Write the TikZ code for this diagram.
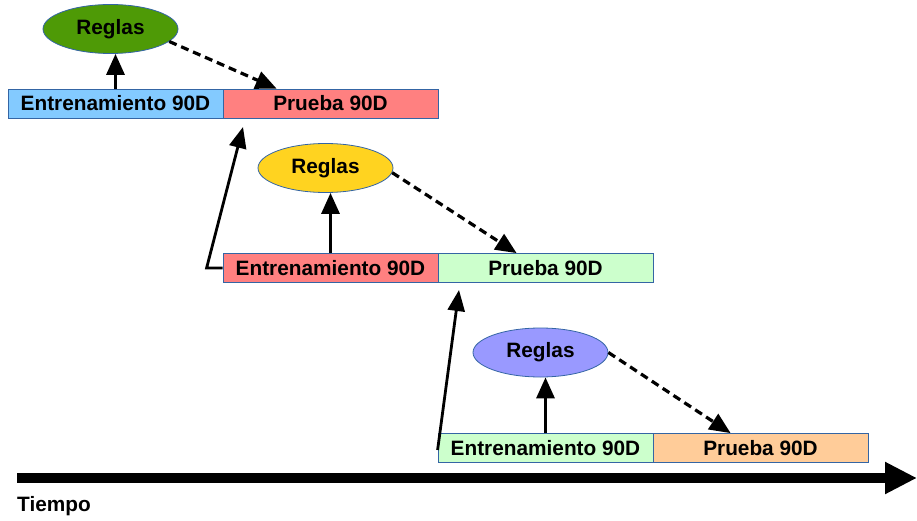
\documentclass[tikz,border=0pt]{standalone}
\usepackage{fontspec}
\setmainfont{Liberation Sans}
\usetikzlibrary{arrows.meta,shapes.geometric,calc}
\definecolor{cblue}{RGB}{131,202,255}
\definecolor{cred}{RGB}{255,128,128}
\definecolor{cgreen}{RGB}{204,255,204}
\definecolor{corange}{RGB}{255,204,153}
\definecolor{egreen}{RGB}{78,154,6}
\definecolor{eyellow}{RGB}{255,211,32}
\definecolor{eblue}{RGB}{153,153,255}
\definecolor{edge}{RGB}{52,101,164}
\tikzset{
  x=1pt, y=-1pt,
  lbl/.style={font=\fontsize{20.8}{24}\selectfont\bfseries},
  phase/.style={lbl, draw=edge, line width=0.8pt, rectangle, minimum width=215pt,
    minimum height=29pt, inner sep=0pt},
  rules/.style={lbl, draw=edge, line width=0.8pt, ellipse, minimum width=135pt,
    minimum height=49pt, inner sep=0pt},
  up/.style={line width=3.2pt, -{Triangle[length=21pt,width=18pt]}},
  feed/.style={line width=3.2pt, dash pattern=on 8pt off 5pt,
    -{Triangle[length=21pt,width=18pt]}},
  link/.style={line width=2.8pt, -{Triangle[length=21pt,width=17pt]}}
}
\begin{document}
\begin{tikzpicture}
\useasboundingbox (0,0) rectangle (917,521);

% first window
\node[phase, fill=cblue] (e1) at (115.5,103.5) {Entrenamiento 90D};
\node[phase, fill=cred] (p1) at (330.5,103.5) {Prueba 90D};
\node[rules, fill=egreen] (g1) at (110.5,29) {Reglas};

% second window
\node[phase, fill=cred] (e2) at (330.5,268) {Entrenamiento 90D};
\node[phase, fill=cgreen] (p2) at (545.5,268) {Prueba 90D};
\node[rules, fill=eyellow] (g2) at (325.5,168) {Reglas};

% third window
\node[phase, fill=cgreen] (e3) at (545.5,448) {Entrenamiento 90D};
\node[phase, fill=corange] (p3) at (760.5,448) {Prueba 90D};
\node[rules, fill=eblue] (g3) at (540.5,352.5) {Reglas};

% training produces rules, rules feed the test window
\draw[up] (e1.north) -- (e1.north |- g1.south);
\draw[feed] (g1.-12) -- ($(p1.north west)+(54,0)$);
\draw[up] (e2.north) -- (e2.north |- g2.south);
\draw[feed] (g2.-4) -- ($(p2.north west)+(79,0)$);
\draw[up] (e3.north) -- (e3.north |- g3.south);
\draw[feed] (g3.east) -- ($(p3.north west)+(78,0)$);

% each training window reuses the previous test window
\coordinate (t1) at (243,127);
\coordinate (t2) at (459,290);
\draw[link] (e2.west) -- ++(-16,0) -- (t1);
\draw[link] ($(e3.west)+(0,2)$) -- (t2);

% time axis
\coordinate (a0) at (17,478);
\coordinate (a1) at (917,478);
\draw[line width=10pt, -{Triangle[length=32pt,width=30pt]}] (a0) -- (a1);
\node[lbl, anchor=north west, inner sep=0pt] (tiempo) at (17,496) {Tiempo};
\end{tikzpicture}
\end{document}
